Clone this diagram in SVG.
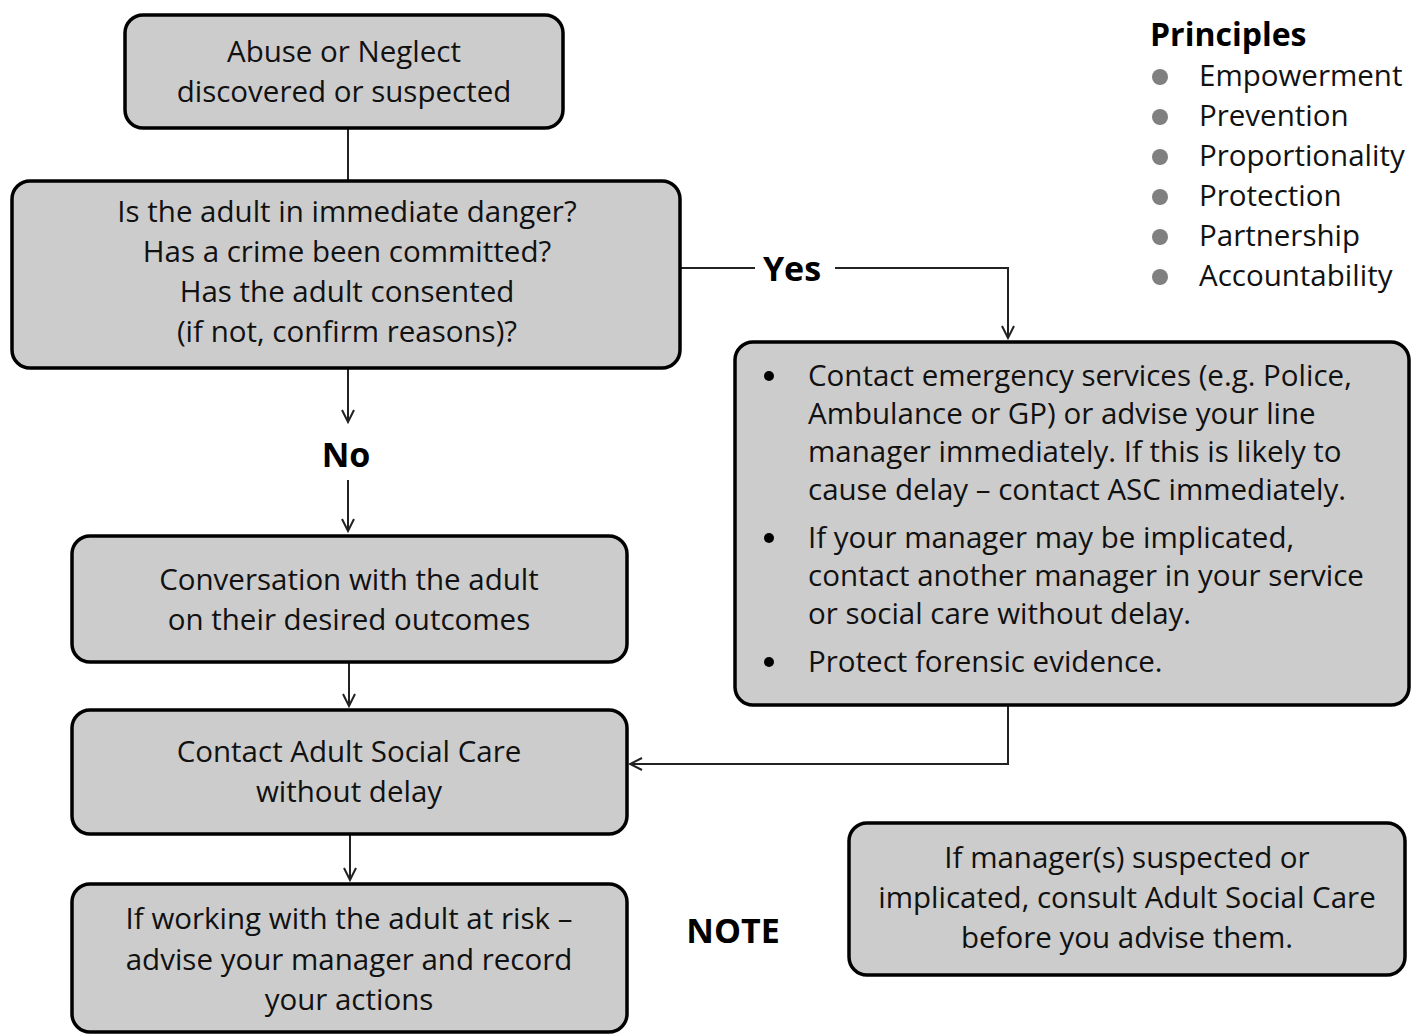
<svg xmlns="http://www.w3.org/2000/svg" width="1421" height="1035" viewBox="0 0 1421 1035">
<style>
.box{fill:#cccccc;stroke:#000;stroke-width:3.5}
.t{font-family:"Open Sans","Liberation Sans",sans-serif;font-size:29.5px;fill:#111}
.c{text-anchor:middle}
.b{font-family:"Open Sans","Liberation Sans",sans-serif;font-size:34px;font-weight:bold;fill:#000}
.ln{fill:none;stroke:#222;stroke-width:2}
</style>
<defs>
<marker id="arr" markerWidth="16" markerHeight="16" refX="14" refY="8" orient="auto" markerUnits="userSpaceOnUse">
<path d="M2,2 L14,8 L2,14" fill="none" stroke="#222" stroke-width="2"/>
</marker>
</defs>
<g id="connectors">
<line class="ln" x1="348" y1="128" x2="348" y2="181"/>
<line class="ln" x1="348" y1="368" x2="348" y2="422" marker-end="url(#arr)"/>
<line class="ln" x1="348" y1="480" x2="348" y2="531" marker-end="url(#arr)"/>
<line class="ln" x1="349" y1="662" x2="349" y2="706" marker-end="url(#arr)"/>
<line class="ln" x1="350" y1="834" x2="350" y2="880" marker-end="url(#arr)"/>
<line class="ln" x1="680" y1="268" x2="755" y2="268"/>
<polyline class="ln" points="835,268 1008,268 1008,338" marker-end="url(#arr)"/>
<polyline class="ln" points="1008,705 1008,764 630,764" marker-end="url(#arr)"/>
<text class="b" x="792" y="281" text-anchor="middle">Yes</text>
<text class="b" x="346" y="467" text-anchor="middle">No</text>
</g>
<g id="n1">
<rect class="box" x="125" y="15" width="438" height="113" rx="18"/>
<text class="t c" x="344" y="62">Abuse or Neglect</text>
<text class="t c" x="344" y="102">discovered or suspected</text>
</g>
<g id="n2">
<rect class="box" x="12" y="181" width="668" height="187" rx="18"/>
<text class="t c" x="347" y="222">Is the adult in immediate danger?</text>
<text class="t c" x="347" y="262">Has a crime been committed?</text>
<text class="t c" x="347" y="302">Has the adult consented</text>
<text class="t c" x="347" y="342">(if not, confirm reasons)?</text>
</g>
<g id="n3">
<rect class="box" x="735" y="342" width="674" height="363" rx="18"/>
<circle cx="769" cy="376" r="5" fill="#000"/>
<circle cx="769" cy="538" r="5" fill="#000"/>
<circle cx="769" cy="662" r="5" fill="#000"/>
<text class="t" x="808" y="386">Contact emergency services (e.g. Police,</text>
<text class="t" x="808" y="424">Ambulance or GP) or advise your line</text>
<text class="t" x="808" y="462">manager immediately. If this is likely to</text>
<text class="t" x="808" y="500">cause delay – contact ASC immediately.</text>
<text class="t" x="808" y="548">If your manager may be implicated,</text>
<text class="t" x="808" y="586">contact another manager in your service</text>
<text class="t" x="808" y="624">or social care without delay.</text>
<text class="t" x="808" y="672">Protect forensic evidence.</text>
</g>
<g id="n4">
<rect class="box" x="72" y="536" width="555" height="126" rx="18"/>
<text class="t c" x="349" y="590">Conversation with the adult</text>
<text class="t c" x="349" y="630">on their desired outcomes</text>
</g>
<g id="n5">
<rect class="box" x="72" y="710" width="555" height="124" rx="18"/>
<text class="t c" x="349" y="762">Contact Adult Social Care</text>
<text class="t c" x="349" y="802">without delay</text>
</g>
<g id="n6">
<rect class="box" x="72" y="884" width="555" height="148" rx="18"/>
<text class="t c" x="349" y="929">If working with the adult at risk –</text>
<text class="t c" x="349" y="970">advise your manager and record</text>
<text class="t c" x="349" y="1010">your actions</text>
</g>
<g id="note">
<text class="b" x="733" y="943" text-anchor="middle">NOTE</text>
</g>
<g id="n7">
<rect class="box" x="849" y="823" width="556" height="152" rx="18"/>
<text class="t c" x="1127" y="868">If manager(s) suspected or</text>
<text class="t c" x="1127" y="908">implicated, consult Adult Social Care</text>
<text class="t c" x="1127" y="948">before you advise them.</text>
</g>
<g id="principles">
<text class="b" x="1150" y="46" style="font-size:32px">Principles</text>
<g fill="#808080">
<circle cx="1160" cy="77" r="8"/>
<circle cx="1160" cy="117" r="8"/>
<circle cx="1160" cy="157" r="8"/>
<circle cx="1160" cy="197" r="8"/>
<circle cx="1160" cy="237" r="8"/>
<circle cx="1160" cy="277" r="8"/>
</g>
<text class="t" x="1199" y="86">Empowerment</text>
<text class="t" x="1199" y="126">Prevention</text>
<text class="t" x="1199" y="166">Proportionality</text>
<text class="t" x="1199" y="206">Protection</text>
<text class="t" x="1199" y="246">Partnership</text>
<text class="t" x="1199" y="286">Accountability</text>
</g>
</svg>
